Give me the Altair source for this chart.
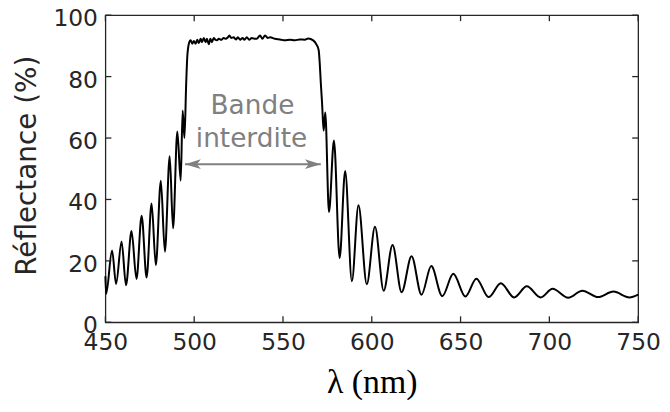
import altair as alt
import pandas as pd

# Spectrum: wavelength (nm) and reflectance (%)
wavelength = [
    450.0, 450.4, 453.75, 456.0, 459.1, 461.6, 464.7, 467.5, 470.4, 473.2,
    476.0, 478.4, 481.2, 483.5, 486.2, 488.1, 490.5, 492.4, 493.5, 494.5,
    495.5, 496.1, 497.0, 498.0, 498.9, 499.8, 500.8, 501.7, 502.6, 503.6,
    504.4, 505.4, 506.4, 507.2, 508.2, 509.1, 510.0, 511.0, 511.9, 512.8,
    513.8, 515.3, 516.6, 517.5, 519.0, 519.8, 520.9, 522.2, 523.5, 524.6,
    525.9, 527.2, 528.3, 529.6, 531.0, 532.4, 534.3, 535.2, 537.1, 538.4,
    539.9, 541.4, 542.7, 545.5, 548.3, 551.1, 553.9, 556.7, 559.5, 562.3,
    564.2, 567.0, 568.8, 570.1, 570.7, 571.3, 572.0, 572.9, 573.8, 575.9,
    578.7, 581.9, 585.0, 588.8, 592.5, 597.2, 601.8, 606.7, 611.7, 616.8,
    622.4, 628.0, 633.5, 639.7, 645.9, 652.7, 658.9, 665.8, 672.7, 680.2,
    687.3, 695.1, 701.8, 710.6, 718.6, 727.4, 736.1, 745.1, 750.0,
]
reflectance = [
    15.0, 9.3, 23.4, 12.5, 26.3, 12.1, 29.7, 14.1, 34.7, 14.6,
    38.7, 18.6, 46.1, 23.0, 54.1, 30.6, 62.1, 46.1, 69.0, 60.0,
    77.9, 86.4, 90.7, 91.8, 90.7, 91.6, 90.7, 92.0, 90.9, 92.3,
    91.2, 92.6, 91.2, 92.3, 90.5, 92.3, 91.2, 92.6, 92.0, 91.8,
    92.3, 92.0, 92.6, 92.3, 92.8, 93.4, 92.6, 92.8, 92.1, 92.8,
    92.0, 92.6, 92.0, 92.8, 92.0, 92.6, 92.3, 92.3, 93.4, 92.3,
    93.4, 92.6, 92.8, 92.3, 92.1, 91.8, 92.0, 91.8, 92.1, 92.0,
    92.4, 91.8, 90.5, 88.6, 84.3, 77.9, 71.5, 62.4, 68.3, 35.9,
    59.2, 20.9, 49.3, 13.4, 38.1, 12.4, 31.1, 10.3, 25.2, 9.8,
    21.5, 9.0, 18.3, 8.5, 15.8, 8.4, 14.2, 8.2, 12.7, 8.1,
    11.7, 8.1, 10.9, 8.0, 10.3, 8.2, 10.0, 8.1, 9.0,
]
assert len(wavelength) == len(reflectance)

x_ticks = [450, 500, 550, 600, 650, 700, 750]
y_ticks = [0, 20, 40, 60, 80, 100]

band_labels = ["Bande", "interdite"]
band_label_x = [532.8, 532.3]
band_label_y = [67.9, 57.1]
band_start = 494.8
band_end = 571.3
band_level = 51.5

W, H = 536, 309
AX = "#262626"
GRAY = "#808080"
TL = 6

df = pd.DataFrame({"wl": wavelength, "R": reflectance})
xt = pd.DataFrame({"wl": x_ticks})
yt = pd.DataFrame({"R": y_ticks})
ann = pd.DataFrame({"t": band_labels, "wl": band_label_x, "R": band_label_y})
arrow = pd.DataFrame({"wl": [band_start], "wl2": [band_end], "R": [band_level]})

xscale = alt.Scale(domain=[450, 750], nice=False, zero=False)
yscale = alt.Scale(domain=[0, 100], nice=False, zero=False)

x_axis = alt.Axis(
    values=x_ticks, title="λ (nm)", grid=False, ticks=False, domain=False,
    labelFont="DejaVu Sans", labelFontSize=23.5, labelColor=AX, labelPadding=8,
    labelFlush=False, labelOverlap=False,
    titleFont="Liberation Serif", titleFontSize=34, titleFontWeight="normal",
    titleColor="black", titleY=61, titleBaseline="middle")
y_axis = alt.Axis(
    values=y_ticks, title="Réflectance (%)", grid=False, ticks=False, domain=False,
    labelFont="DejaVu Sans", labelFontSize=23.5, labelColor=AX, labelPadding=8,
    labelOffset=3.5, labelFlush=False, labelOverlap=False,
    titleFont="DejaVu Sans", titleFontSize=28, titleFontWeight="normal",
    titleColor=AX, titleX=-78, titleY=151, titleAngle=270,
    titleAlign="center", titleBaseline="middle")

X = alt.X("wl:Q", scale=xscale, axis=x_axis)
Y = alt.Y("R:Q", scale=yscale, axis=y_axis)

line = alt.Chart(df).mark_line(color="black", strokeWidth=2, interpolate="monotone").encode(x=X, y=Y)

tick_style = dict(color=AX, strokeWidth=1.3)
bottom_ticks = alt.Chart(xt).mark_rule(**tick_style).encode(x=X, y=alt.value(H), y2=alt.value(H - TL))
top_ticks = alt.Chart(xt).mark_rule(**tick_style).encode(x=X, y=alt.value(0), y2=alt.value(TL))
left_ticks = alt.Chart(yt).mark_rule(**tick_style).encode(y=Y, x=alt.value(0), x2=alt.value(TL))
right_ticks = alt.Chart(yt).mark_rule(**tick_style).encode(y=Y, x=alt.value(W), x2=alt.value(W - TL))

text = alt.Chart(ann).mark_text(
    font="DejaVu Sans", fontSize=26.5, color=GRAY, align="center", baseline="alphabetic"
).encode(x=X, y=Y, text="t:N")

shaft = alt.Chart(arrow).mark_rule(color=GRAY, strokeWidth=2).encode(x=X, x2="wl2:Q", y=Y)

left_head_path = "M-1,0 L1,-0.6 L0.5,0 L1,0.6 Z"
right_head_path = "M1,0 L-1,-0.6 L-0.5,0 L-1,0.6 Z"
head_l = alt.Chart(arrow).mark_point(
    shape=left_head_path, filled=True, size=256, color=GRAY, opacity=1, xOffset=8
).encode(x=X, y=Y)
head_r = alt.Chart(arrow).mark_point(
    shape=right_head_path, filled=True, size=256, color=GRAY, opacity=1, xOffset=-8
).encode(x=alt.X("wl2:Q", scale=xscale, axis=x_axis), y=Y)

chart = alt.layer(
    line, bottom_ticks, top_ticks, left_ticks, right_ticks, shaft, head_l, head_r, text
).properties(
    width=W, height=H,
    padding={"left": 98, "top": 6, "right": 24, "bottom": 85},
    autosize=alt.AutoSizeParams(type="none"),
    background="white",
).configure_view(stroke=AX, strokeWidth=1.3)

chart.save("out.html", embed_options={"renderer": "svg", "actions": False})
